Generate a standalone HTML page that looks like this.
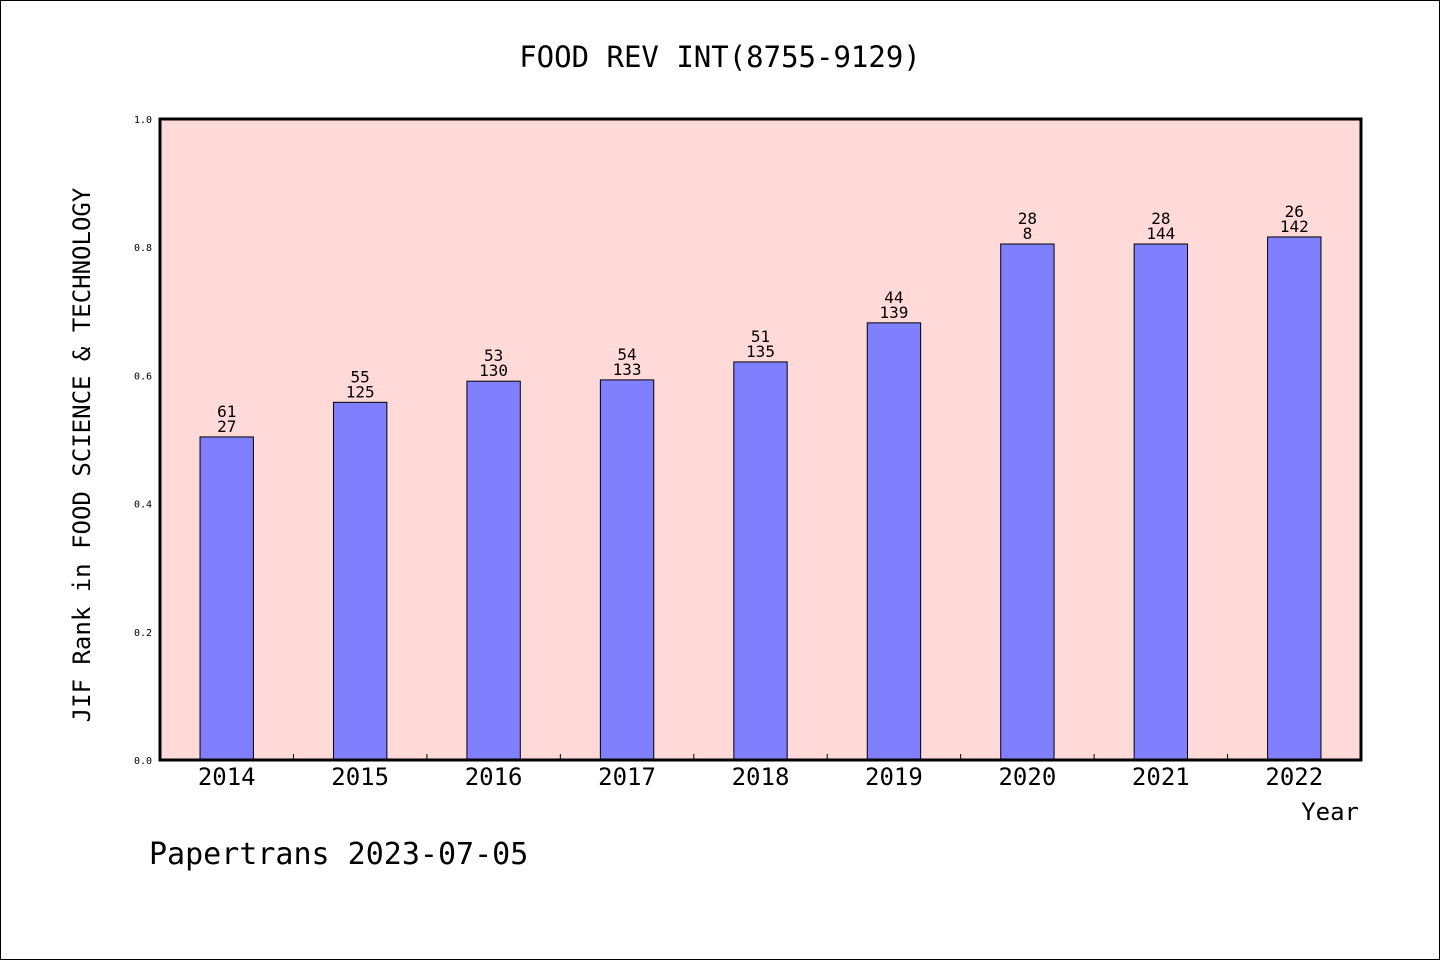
<!DOCTYPE html>
<html><head><meta charset="utf-8"><style>
html,body{margin:0;padding:0;background:#fff}
svg text{font-family:"DejaVu Sans Mono","Liberation Mono",monospace}
</style></head><body>
<svg width="1440" height="960" xmlns="http://www.w3.org/2000/svg">
<rect x="0.5" y="0.5" width="1439" height="959" fill="#fff" stroke="#000"/>
<text x="720" y="67" font-size="29" text-anchor="middle">FOOD REV INT(8755-9129)</text>
<rect x="160" y="119" width="1201" height="641" fill="#ffdad8"/>
<g id="bars"></g>
<g id="yt"></g>
<rect x="160" y="119" width="1201" height="641" fill="none" stroke="#000" stroke-width="3"/>
<text transform="translate(90,455) rotate(-90)" font-size="24" text-anchor="middle">JIF Rank in FOOD SCIENCE &amp; TECHNOLOGY</text>
<text x="1359" y="820" font-size="24" text-anchor="end">Year</text>
<text x="149" y="864" font-size="30">Papertrans 2023-07-05</text>
</svg>
<script>
const categories=["2014","2015","2016","2017","2018","2019","2020","2021","2022"];
const values=[0.504,0.558,0.591,0.593,0.621,0.682,0.805,0.805,0.816];
const topLabels=["61","55","53","54","51","44","28","28","26"];
const bottomLabels=["27","125","130","133","135","139","8","144","142"];
const yTicks=[0,0.2,0.4,0.6,0.8,1.0];
const NS="http://www.w3.org/2000/svg";
const x0=160,x1=1361,y0=760,y1=119;
const band=(x1-x0)/categories.length;
const yS=v=>y0-(v)*(y0-y1);
const bars=document.getElementById('bars'),yt=document.getElementById('yt');
function mk(t,a,p){const e=document.createElementNS(NS,t);for(const k in a)e.setAttribute(k,a[k]);p.appendChild(e);return e;}
categories.forEach((c,i)=>{
 const cx=x0+band*(i+0.5),w=band*0.4,yt_=yS(values[i]);
 const r=mk('rect',{x:cx-w/2,y:yt_,width:w,height:y0-yt_,fill:'#8080ff',stroke:'#000','stroke-width':1},bars);
 
 
 const t1=mk('text',{x:cx,y:yt_-20,'font-size':16,'text-anchor':'middle'},bars);t1.textContent=topLabels[i];
 
 
 const t2=mk('text',{x:cx,y:yt_-5,'font-size':16,'text-anchor':'middle'},bars);t2.textContent=bottomLabels[i];
 
 
 const xl=mk('text',{x:cx,y:785,'font-size':24,'text-anchor':'middle'},bars);xl.textContent=c;
 
 
 if(i>0){const tk=mk('line',{x1:x0+band*i,x2:x0+band*i,y1:y0,y2:y0-6,stroke:'#000'},bars);
 
 }
});
yTicks.forEach(v=>{
 const t=mk('text',{x:152,y:yS(v)+4,'font-size':10,'text-anchor':'end'},yt);t.textContent=v.toFixed(1);
 
 
});
</script>
</body></html>
